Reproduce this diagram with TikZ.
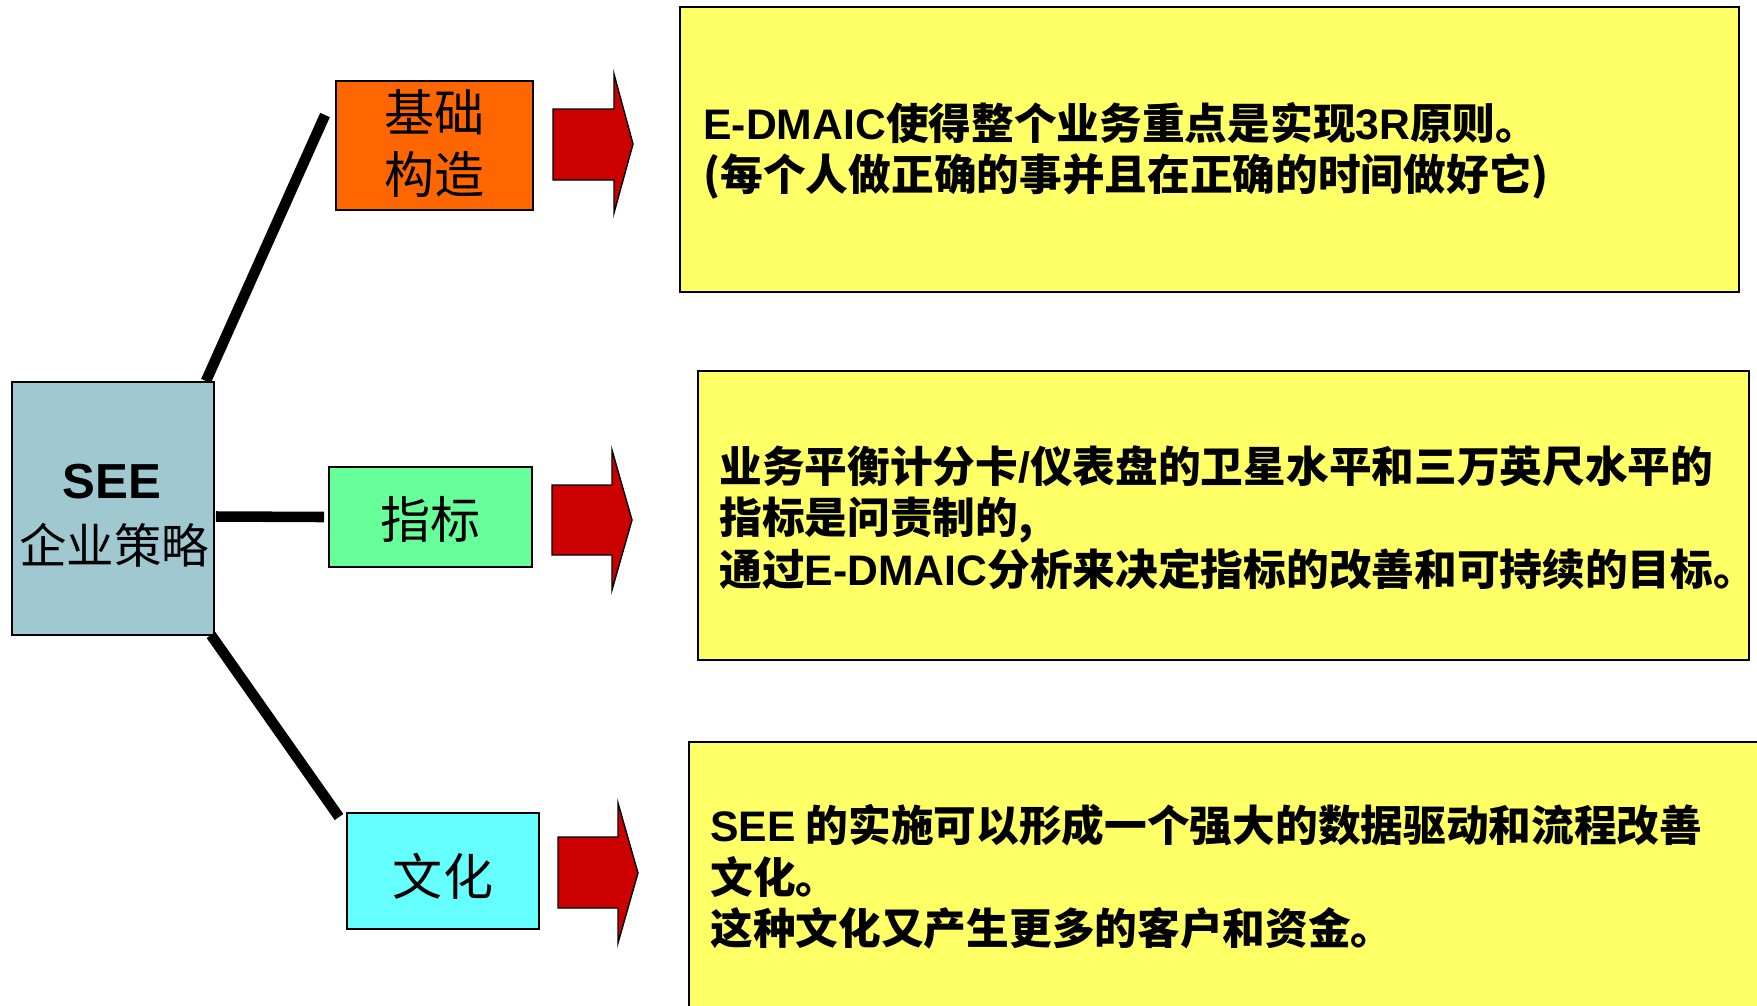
\documentclass[tikz,border=0pt]{standalone}
\usepackage{fontspec}
\setmainfont{Noto Sans CJK SC}
\newfontfamily\cjk{Noto Sans CJK SC}
\newfontfamily\lat{Liberation Sans}
\newcommand\latb[1]{{\lat\bfseries #1}}
\usetikzlibrary{calc}
\definecolor{seeblue}{RGB}{160,200,208}
\definecolor{orangebox}{RGB}{255,102,0}
\definecolor{greenbox}{RGB}{102,255,153}
\definecolor{cyanbox}{RGB}{102,255,255}
\definecolor{yellowbox}{RGB}{255,255,102}
\definecolor{arrowred}{RGB}{204,0,0}
\begin{document}
\begin{tikzpicture}[x=0.02cm,y=-0.02cm,
  box/.style={draw=black, line width=1pt, inner sep=0pt, outer sep=0pt},
  lbl/.style={font=\cjk\fontsize{28.5}{35.3}\selectfont, align=center, inner sep=0pt},
  ytext/.style={font=\cjk\bfseries\fontsize{24.3}{29.3}\selectfont, align=left, anchor=west, inner sep=0pt},
  conn/.style={line width=6pt},
  barrow/.style={fill=arrowred, draw=black, line width=0.8pt, line join=miter}]
\clip (0,0) rectangle (1757,1005);
\fill[white] (0,0) rectangle (1757,1005);

% left box
\node[box, fill=seeblue, minimum width=4.04cm, minimum height=5.06cm] (see) at (113,508.5) {};
\node[font=\lat\bfseries\fontsize{28}{32}\selectfont, inner sep=0pt] (seet) at (112,482) {SEE};
\node[font=\cjk\fontsize{27}{32}\selectfont, inner sep=0pt] (seec) at (114,545) {企业策略};

% middle boxes
\node[box, fill=orangebox, minimum width=3.94cm, minimum height=2.58cm] (base) at (434.5,145.5) {};
\node[lbl] (baset) at (434.5,143) {基础\\构造};
\node[box, fill=greenbox, minimum width=4.06cm, minimum height=2.0cm] (kpi) at (430.5,517) {};
\node[lbl] (kpit) at (430.5,519) {指标};
\node[box, fill=cyanbox, minimum width=3.84cm, minimum height=2.32cm] (cult) at (443,871) {};
\node[lbl] (cultt) at (443,876) {文化};

% connectors
\draw[conn] ([shift={(-8,-1)}]see.north east) -- ([shift={(-11,34)}]base.north west);
\draw[conn] ([shift={(2,8)}]see.east) -- ([shift={(-5,0)}]kpi.west);
\draw[conn] ([shift={(-3,0)}]see.south east) -- ([shift={(-8,4)}]cult.north west);

% block arrows
\draw[barrow] (553,109) -- (614,109) -- (614,74) -- (633,144) -- (614,213) -- (614,180) -- (553,180) -- cycle;
\draw[barrow] (552,485) -- (612,485) -- (612,450) -- (632,520) -- (612,590) -- (612,555) -- (552,555) -- cycle;
\draw[barrow] (558,837) -- (618,837) -- (618,803) -- (638,873) -- (618,943) -- (618,908) -- (558,908) -- cycle;

% yellow boxes
\node[box, fill=yellowbox, minimum width=21.18cm, minimum height=5.7cm] (y1) at (1209.5,149.5) {};
\node[ytext] (y1t) at ([shift={(23,1.5)}]y1.west) {\latb{E-DMAIC}使得整个业务重点是实现\latb{3R}原则。\\(每个人做正确的事并且在正确的时间做好它)};
\node[box, fill=yellowbox, minimum width=21.02cm, minimum height=5.78cm] (y2) at (1223.5,515.5) {};
\node[ytext] (y2t) at ([shift={(21,2)}]y2.west) {业务平衡计分卡\latb{/}仪表盘的卫星水平和三万英尺水平的\\指标是问责制的,\\通过\latb{E-DMAIC}分析来决定指标的改善和可持续的目标。};
\node[box, fill=yellowbox, minimum width=21.42cm, minimum height=5.4cm] (y3) at (1224.5,877) {};
\node[ytext] (y3t) at ([shift={(21,0)}]y3.west) {\latb{SEE} 的实施可以形成一个强大的数据驱动和流程改善\\文化。\\这种文化又产生更多的客户和资金。};
\end{tikzpicture}
\end{document}
